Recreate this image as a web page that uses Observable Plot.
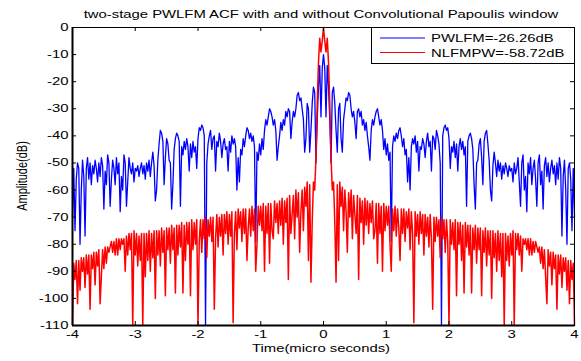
<!DOCTYPE html>
<html><head><meta charset="utf-8">
<script src="https://cdn.jsdelivr.net/npm/d3@7"></script>
<script src="https://cdn.jsdelivr.net/npm/@observablehq/plot@0.6"></script>
<style>
html,body{margin:0;padding:0;background:#fff;}
svg text{font-family:"Liberation Sans",Arial,sans-serif;}
</style></head><body><div id="chart"></div>
<script>
const titleText = "two-stage PWLFM ACF with and without Convolutional Papoulis window";
const xLabel = "Time(micro seconds)";
const yLabel = "Amplitude(dB)";
const seriesNames = ["PWLFM=-26.26dB", "NLFMPW=-58.72dB"];
const seriesColors = ["#0000ff", "#ff0000"];
const xTicks = [-4, -3, -2, -1, 0, 1, 2, 3, 4];
const yTicks = [0, -10, -20, -30, -40, -50, -60, -70, -80, -90, -100, -110];

// Samples every 0.02 µs from t = 0 to t = 4 (the ACF is symmetric about t = 0)
const timeStep = 0.02;
const pwlfmHalf = [
  -10,-15,-33,-14,-22,-34,-50,-24,-22,-28,
  -38,-46,-30,-28,-41,-46,-34,-30,-26,-27,
  -24,-25,-30,-33,-31,-35,-41,-31,-30,-33,
  -31,-36,-34,-38,-35,-40,-44,-49,-38,-34,
  -36,-33,-31,-30,-33,-36,-34,-38,-45,-41,
  -47,-43,-49,-46,-79,-44,-40,-42,-39,-41,
  -38,-37,-40,-44,-41,-47,-45,-57,-48,-60,
  -44,-41,-43,-40,-46,-42,-53,-44,-45,-41,
  -43,-48,-42,-39,-44,-42,-53,-40,-41,-45,
  -38,-40,-43,-50,-110,-40,-37,-36,-38,-37,
  -41,-52,-44,-46,-42,-48,-43,-53,-44,-41,
  -45,-42,-47,-44,-66,-42,-40,-39,-41,-45,
  -58,-67,-50,-49,-43,-41,-48,-58,-42,-39,
  -38,-43,-49,-60,-64,-51,-46,-50,-55,-49,
  -53,-50,-56,-51,-54,-50,-52,-55,-51,-53,
  -52,-57,-50,-54,-52,-48,-57,-66,-50,-47,
  -60,-55,-68,-50,-54,-48,-58,-52,-49,-56,
  -66,-50,-47,-58,-53,-67,-51,-48,-55,-50,
  -57,-52,-49,-54,-51,-58,-50,-56,-48,-52,
  -77,-55,-49,-60,-80,-52,-50,-56,-75,-52,
  -70
];
const nlfmpwHalf = [
  0,-5,-9,-4,-13,-28,-48,-60,-57,-72,
  -94,-58,-86,-57,-66,-59,-75,-60,-68,-83,
  -61,-70,-60,-78,-62,-69,-76,-62,-93,-63,
  -72,-64,-80,-63,-73,-64,-76,-65,-72,-64,
  -78,-75,-65,-87,-65,-76,-66,-90,-65,-75,
  -66,-73,-66,-80,-90,-67,-75,-66,-77,-67,
  -74,-86,-67,-76,-67,-79,-68,-74,-67,-82,
  -68,-76,-109,-68,-77,-69,-80,-68,-76,-69,
  -84,-69,-77,-70,-81,-69,-78,-104,-70,-79,
  -70,-77,-71,-85,-70,-78,-71,-83,-71,-79,
  -110,-71,-80,-72,-82,-71,-99,-72,-80,-72,
  -86,-73,-98,-72,-81,-73,-84,-73,-98,-74,
  -82,-73,-87,-74,-82,-74,-99,-75,-83,-74,
  -88,-75,-84,-75,-100,-75,-85,-76,-90,-75,
  -86,-76,-92,-76,-110,-76,-86,-77,-88,-76,
  -84,-75,-110,-76,-82,-76,-84,-77,-90,-78,
  -80,-78,-82,-78,-84,-78,-84,-79,-83,-79,
  -81,-83,-81,-87,-81,-89,-82,-92,-102,-82,
  -88,-83,-95,-83,-89,-84,-104,-84,-91,-84,
  -96,-85,-90,-85,-97,-86,-102,-86,-93,-87,
  -110
];

function mirrorRows(half, name) {
  const rows = [];
  for (let i = half.length - 1; i > 0; i--) rows.push({t: -i * timeStep, db: half[i], series: name});
  for (let i = 0; i < half.length; i++) rows.push({t: i * timeStep, db: half[i], series: name});
  return rows;
}
const pwlfmRows = mirrorRows(pwlfmHalf, seriesNames[0]);
const nlfmpwRows = mirrorRows(nlfmpwHalf, seriesNames[1]);

const W = 581, H = 361, mL = 72, mR = 7, mT = 27, mB = 36;
const fw = W - mL - mR, fh = H - mT - mB;
const fmt = d => String(d);

const chart = Plot.plot({
  width: W, height: H,
  marginLeft: mL, marginRight: mR, marginTop: mT, marginBottom: mB,
  style: {fontFamily: "Liberation Sans, Arial, sans-serif", fontSize: "11px", color: "black", background: "white", overflow: "visible"},
  x: {domain: [-4, 4], label: null},
  y: {domain: [-110, 0], label: null},
  marks: [
    Plot.line(pwlfmRows, {x: "t", y: "db", stroke: seriesColors[0], strokeWidth: 1.3}),
    Plot.line(nlfmpwRows, {x: "t", y: "db", stroke: seriesColors[1], strokeWidth: 1.5}),
    Plot.frame({stroke: "black", strokeWidth: 1}),
    Plot.ruleX([-4], {stroke: "black", strokeWidth: 2}),
    Plot.ruleY([-110], {stroke: "black", strokeWidth: 2}),
    Plot.tickX(xTicks, {x: d => d, insetTop: fh - 4, stroke: "black"}),
    Plot.tickX(xTicks, {x: d => d, insetBottom: fh - 4, stroke: "black"}),
    Plot.tickY(yTicks, {y: d => d, insetRight: fw - 4, stroke: "black"}),
    Plot.tickY(yTicks, {y: d => d, insetLeft: fw - 4, stroke: "black"}),
    Plot.axisX({ticks: xTicks, tickSize: 0, tickPadding: 5, tickFormat: fmt, label: null}),
    Plot.axisY({ticks: yTicks, tickSize: 0, tickPadding: 4, tickFormat: fmt, label: null})
  ]
});
document.getElementById("chart").append(chart);

const svg = d3.select(chart);
svg.append("text").attr("x", mL + fw / 2 - 2).attr("y", 18)
  .attr("text-anchor", "middle").attr("fill", "black").text(titleText);
svg.append("text").attr("x", mL + fw / 2 - 2).attr("y", 351.5)
  .attr("text-anchor", "middle").attr("fill", "black").text(xLabel);
svg.append("text").attr("transform", `translate(27,${mT + fh / 2}) scale(1.33,1) rotate(-90)`)
  .attr("text-anchor", "middle").attr("fill", "black").text(yLabel);

// legend (north-east, inside the axes)
const lg = svg.append("g");
const lx0 = W - mR - 202.5;
lg.append("rect").attr("x", lx0).attr("y", mT + 0.5).attr("width", 203).attr("height", 36)
  .attr("fill", "white").attr("stroke", "black").attr("stroke-width", 1);
seriesNames.forEach((name, i) => {
  const yy = 38 + i * 14.5;
  lg.append("line").attr("x1", lx0 + 8.5).attr("x2", lx0 + 53.5).attr("y1", yy).attr("y2", yy)
    .attr("stroke", seriesColors[i]).attr("stroke-width", 1);
  lg.append("text").attr("x", lx0 + 59.5).attr("y", yy + 4.3)
    .attr("text-anchor", "start").attr("fill", "black").text(name);
});

// widen the glyphs like the reference (its text is horizontally stretched)
svg.selectAll("text").each(function () {
  if (this.getAttribute("transform") && this.getAttribute("transform").includes("rotate")) return;
  const w = this.getComputedTextLength();
  if (w > 0) {
    this.setAttribute("textLength", (w * 1.35).toFixed(1));
    this.setAttribute("lengthAdjust", "spacingAndGlyphs");
  }
});
</script></body></html>
